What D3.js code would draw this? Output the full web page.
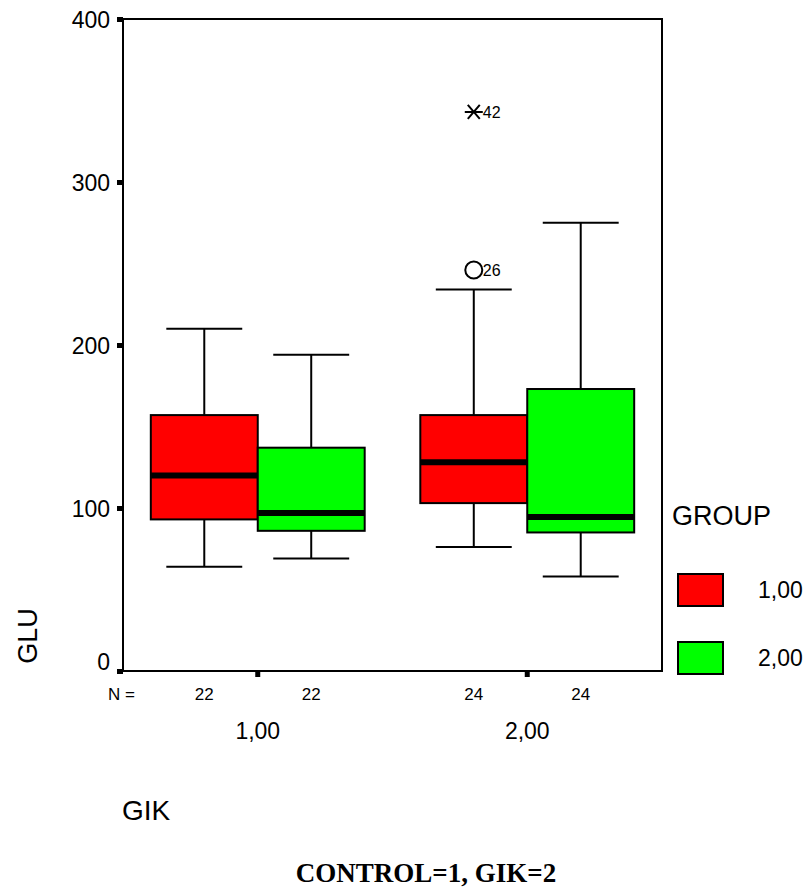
<!DOCTYPE html>
<html>
<head>
<meta charset="utf-8">
<script src="https://cdn.jsdelivr.net/npm/d3@7"></script>
<style>
  body { margin: 0; background: #fff; }
  svg { display: block; font-family: Arial, "Liberation Sans", sans-serif; }
</style>
</head>
<body>
<div id="chart"></div>
<script>
// GIK category (x axis) and GROUP (legend)
let categories = ["1,00", "2,00"]
let groups = ["1,00", "2,00"]
let groupColors = ["#ff0000", "#00ff00"]

// box stats per group, one value per GIK category
let group1Min = [64, 76]
let group1Q1 = [93, 103]
let group1Median = [120, 128]
let group1Q3 = [157, 157]
let group1Max = [210, 234]

let group2Min = [69, 58]
let group2Q1 = [86, 85]
let group2Median = [97, 94.5]
let group2Q3 = [137, 173]
let group2Max = [194, 275]

let group1N = [22, 24]
let group2N = [22, 24]

// outliers: GIK category, group, value, case label, kind
let outlierCat = ["2,00", "2,00"]
let outlierGroup = ["1,00", "1,00"]
let outlierValue = [246, 343]
let outlierLabel = ["26", "42"]
let outlierKind = ["circle", "star"]

let yTicks = [0, 100, 200, 300, 400]

let boxes = []
categories.forEach((c, i) => {
    boxes.push({cat: c, group: groups[0], min: group1Min[i], q1: group1Q1[i], med: group1Median[i], q3: group1Q3[i], max: group1Max[i], n: group1N[i]})
    boxes.push({cat: c, group: groups[1], min: group2Min[i], q1: group2Q1[i], med: group2Median[i], q3: group2Q3[i], max: group2Max[i], n: group2N[i]})
})
let outliers = outlierValue.map((v, i) => ({cat: outlierCat[i], group: outlierGroup[i], value: v, label: outlierLabel[i], kind: outlierKind[i]}))

let width = 806
let height = 890
let plot = {left: 123, right: 662, top: 19, bottom: 671}

let svg = d3.select('#chart')
    .append('svg')
    .attr('width', width)
    .attr('height', height)

let x0 = d3.scaleBand().domain(categories).range([plot.left, plot.right])
let x1 = d3.scaleBand().domain(groups).range([0, x0.bandwidth()]).paddingInner(0).paddingOuter(0.26)
let y = d3.scaleLinear().domain([0, 400]).range([plot.bottom, plot.top])
let color = d3.scaleOrdinal().domain(groups).range(groupColors)

// frame
svg.append('rect')
    .attr('x', plot.left).attr('y', plot.top)
    .attr('width', plot.right - plot.left).attr('height', plot.bottom - plot.top)
    .attr('fill', 'none').attr('stroke', '#000').attr('stroke-width', 2)

// y axis
let yAxis = d3.axisLeft(y).tickValues(yTicks).tickSize(6).tickPadding(7).tickFormat(d3.format('d'))
let yg = svg.append('g')
    .attr('transform', `translate(${plot.left},0)`)
    .call(yAxis)
yg.select('.domain').remove()
yg.selectAll('.tick line').attr('stroke', '#000').attr('stroke-width', 5)
yg.selectAll('.tick text')
    .style('font-size', '23px').style('font-family', 'Arial, "Liberation Sans", sans-serif').attr('fill', '#000')
    .attr('dy', d => d === 0 ? '-0.05em' : '0.35em')

// x axis
let xAxis = d3.axisBottom(x0).tickSize(6).tickPadding(46)
let xg = svg.append('g')
    .attr('transform', `translate(0,${plot.bottom})`)
    .call(xAxis)
xg.select('.domain').remove()
xg.selectAll('.tick line').attr('stroke', '#000').attr('stroke-width', 5)
xg.selectAll('.tick text')
    .style('font-size', '23px').style('font-family', 'Arial, "Liberation Sans", sans-serif').attr('fill', '#000')

// axis titles
svg.append('text')
    .attr('transform', `translate(37,636) rotate(-90)`)
    .attr('text-anchor', 'middle')
    .style('font-size', '27px')
    .text('GLU')

svg.append('text')
    .attr('x', 122).attr('y', 820)
    .style('font-size', '28px')
    .text('GIK')

svg.append('text')
    .attr('x', 426).attr('y', 882)
    .attr('text-anchor', 'middle')
    .style('font-family', '"Times New Roman", "Liberation Serif", serif')
    .style('font-weight', 'bold')
    .style('font-size', '27px')
    .text('CONTROL=1, GIK=2')

// boxes
let boxG = svg.append('g').selectAll('g')
    .data(boxes)
    .enter()
    .append('g')
    .attr('transform', d => `translate(${x0(d.cat) + x1(d.group)},0)`)

let bw = x1.bandwidth()
let capHalf = bw * 0.355

// whiskers
boxG.append('line')
    .attr('x1', bw / 2).attr('x2', bw / 2)
    .attr('y1', d => y(d.max)).attr('y2', d => y(d.min))
    .attr('stroke', '#000').attr('stroke-width', 2)
boxG.selectAll('.cap')
    .data(d => [d.min, d.max])
    .enter()
    .append('line')
    .attr('class', 'cap')
    .attr('x1', bw / 2 - capHalf).attr('x2', bw / 2 + capHalf)
    .attr('y1', d => y(d)).attr('y2', d => y(d))
    .attr('stroke', '#000').attr('stroke-width', 2)

boxG.append('rect')
    .attr('x', 0).attr('width', bw)
    .attr('y', d => y(d.q3))
    .attr('height', d => y(d.q1) - y(d.q3))
    .attr('fill', d => color(d.group))
    .attr('stroke', '#000').attr('stroke-width', 2)

boxG.append('line')
    .attr('x1', 0).attr('x2', bw)
    .attr('y1', d => y(d.med)).attr('y2', d => y(d.med))
    .attr('stroke', '#000').attr('stroke-width', 6)

// N = row
svg.append('text')
    .attr('x', 108).attr('y', 700)
    .style('font-size', '17px')
    .text('N =')
boxG.append('text')
    .attr('x', bw / 2).attr('y', 700)
    .attr('text-anchor', 'middle')
    .style('font-size', '17px')
    .text(d => d.n)

// outliers
let outG = svg.append('g').selectAll('g')
    .data(outliers)
    .enter()
    .append('g')
    .attr('transform', d => `translate(${x0(d.cat) + x1(d.group) + bw / 2},${y(d.value)})`)

outG.filter(d => d.kind === 'circle')
    .append('circle')
    .attr('r', 8.5)
    .attr('fill', 'none').attr('stroke', '#000').attr('stroke-width', 2)

outG.filter(d => d.kind === 'star')
    .append('path')
    .attr('d', 'M-9,0H9M-6,-7L6,7M-6,7L6,-7')
    .attr('fill', 'none').attr('stroke', '#000').attr('stroke-width', 2)

outG.append('text')
    .attr('x', 9).attr('dy', '0.35em')
    .style('font-size', '16px')
    .text(d => d.label)

// legend
svg.append('text')
    .attr('x', 672).attr('y', 525)
    .style('font-size', '27px')
    .text('GROUP')

let leg = svg.append('g').selectAll('g')
    .data(groups)
    .enter()
    .append('g')
    .attr('transform', (d, i) => `translate(678,${574 + i * 68})`)
leg.append('rect')
    .attr('width', 45).attr('height', 32)
    .attr('fill', d => color(d))
    .attr('stroke', '#000').attr('stroke-width', 2)
leg.append('text')
    .attr('x', 80).attr('y', 16).attr('dy', '0.35em')
    .style('font-size', '23px')
    .text(d => d)
</script>
</body>
</html>
